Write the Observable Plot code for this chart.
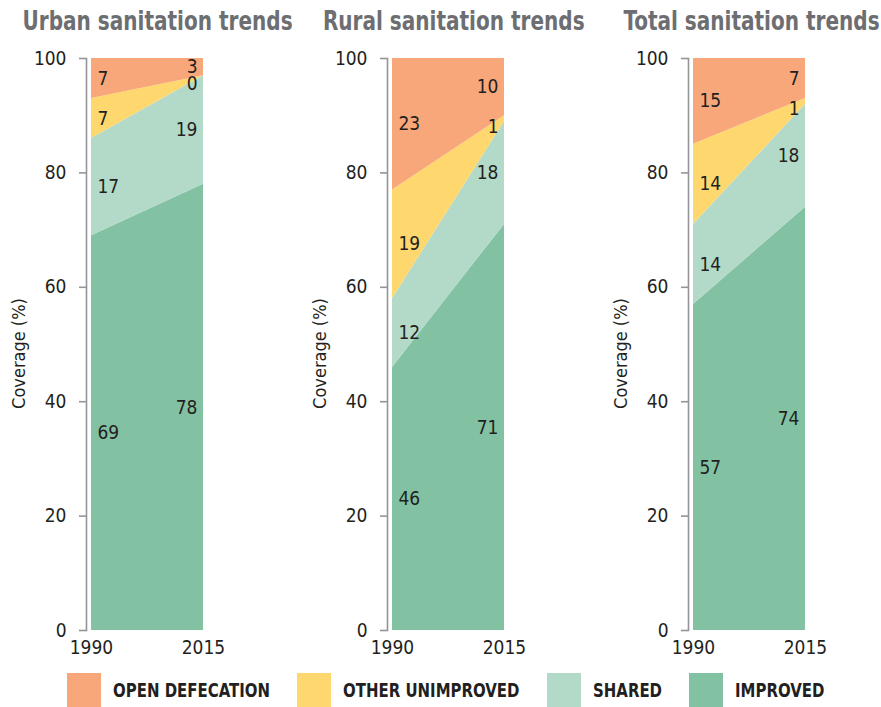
<!DOCTYPE html>
<html>
<head>
<meta charset="utf-8">
<script src="https://cdn.jsdelivr.net/npm/d3@7"></script>
<script src="https://cdn.jsdelivr.net/npm/@observablehq/plot@0.6"></script>
<style>
  html, body { margin: 0; padding: 0; background: #fff; overflow: hidden; }
  body { width: 881px; height: 707px; position: relative;
         font-family: "Liberation Sans Narrow", "DejaVu Sans Condensed", "DejaVu Sans", sans-serif; }
  .panel { position: absolute; top: 0; width: 301px; height: 670px; }
  .title { position: absolute; top: 8px; left: 0; width: 294px; text-align: center;
           font-size: 26px; line-height: 26px; font-weight: bold; color: #6d6e71; white-space: nowrap; }
  .title span { display: inline-block; transform-origin: 50% 50%; }
  .legend { position: absolute; top: 673px; left: 67px; display: flex; align-items: center; height: 34px; }
  .item { display: flex; align-items: center; margin-right: 27px; }
  .swatch { width: 34px; height: 34px; margin-right: 12px; flex: none; }
  .lab { font-size: 19px; font-weight: bold; color: #231f20; white-space: nowrap; overflow: visible; }
  .lab span { display: inline-block; transform-origin: 0 50%; }
</style>
</head>
<body>
<div id="root"></div>
<script>
const years = [1990, 2015];
const categories = ["Improved", "Shared", "Other unimproved", "Open defecation"];
const colors = ["#82c1a2", "#b3dac8", "#fed86e", "#f7a77a"];
const legendOrder = ["Open defecation", "Other unimproved", "Shared", "Improved"];
const legendLabels = ["OPEN DEFECATION", "OTHER UNIMPROVED", "SHARED", "IMPROVED"];
const titles = ["Urban sanitation trends", "Rural sanitation trends", "Total sanitation trends"];
const yTicks = [0, 20, 40, 60, 80, 100];
const yLabel = "Coverage (%)";

// values per category order: Improved, Shared, Other unimproved, Open defecation
const urban1990 = [69, 17, 7, 7];
const urban2015 = [78, 19, 0, 3];
const rural1990 = [46, 12, 19, 23];
const rural2015 = [71, 18, 1, 10];
const total1990 = [57, 14, 14, 15];
const total2015 = [74, 18, 1, 7];

const panels = [
  [urban1990, urban2015],
  [rural1990, rural2015],
  [total1990, total2015]
];

const root = document.getElementById("root");
const textColor = "#231f20";
const axisGray = "#939598";
const fontStack = '"Liberation Sans Narrow", "DejaVu Sans Condensed", "DejaVu Sans", sans-serif';

const titleSpans = [];
panels.forEach((vals, i) => {
  const rows = [];
  years.forEach((yr, j) => {
    categories.forEach((c, k) => rows.push({year: yr, category: c, value: vals[j][k]}));
  });

  const div = document.createElement("div");
  div.className = "panel";
  div.style.left = (i * 301) + "px";

  const stackOpts = {x: "year", y: "value", z: "category", order: categories};

  const chart = Plot.plot({
    width: 301,
    height: 665,
    marginLeft: 86,
    marginRight: 98,
    marginTop: 58,
    marginBottom: 35,
    style: {fontFamily: fontStack, fontSize: "19px", background: "transparent", color: textColor},
    x: {domain: [1990, 2015], insetLeft: 5},
    y: {domain: [0, 100]},
    color: {domain: categories, range: colors},
    marks: [
      Plot.areaY(rows, {...stackOpts, fill: "category"}),
      Plot.frame({anchor: "left", stroke: axisGray, strokeWidth: 1.6}),
      Plot.axisY({ticks: yTicks, tickSize: 7, tickPadding: 13, stroke: axisGray, strokeWidth: 1.6, fill: textColor, label: null}),
      Plot.axisX({ticks: years, tickFormat: d => String(d), tickSize: 0, tickPadding: 10, fill: textColor, label: null}),
      Plot.text([yLabel], {frameAnchor: "left", text: d => d, rotate: -90, textAnchor: "middle", lineAnchor: "middle", dx: -67, dy: 9, fill: textColor, fontSize: 18}),
      Plot.text(rows, Plot.stackY({...stackOpts, filter: d => d.year === 1990, text: "value", textAnchor: "start", dx: 6, fill: textColor})),
      Plot.text(rows, Plot.stackY({...stackOpts, filter: d => d.year === 2015, text: d => d.value > 1 ? String(d.value) : "", textAnchor: "end", dx: -6, fill: textColor})),
      Plot.text(rows, Plot.stackY({...stackOpts, filter: d => d.year === 2015, text: d => d.value <= 1 ? String(d.value) : "", textAnchor: "end", dx: -6, dy: 8, fill: textColor}))
    ]
  });
  chart.style.position = "absolute";
  chart.style.left = "0px";
  chart.style.top = "0px";
  div.appendChild(chart);

  const t = document.createElement("div");
  t.className = "title";
  const ts = document.createElement("span");
  ts.textContent = titles[i];
  t.appendChild(ts);
  div.appendChild(t);
  titleSpans.push(ts);
  root.appendChild(div);
});

// condense the bold title text horizontally to match the narrow typeface of the original
const tw = titleSpans[0].getBoundingClientRect().width;
const tf = Math.min(1, 270 / tw);
titleSpans.forEach(s => { s.style.transform = `scaleX(${tf})`; });

const legend = document.createElement("div");
legend.className = "legend";
root.appendChild(legend);
const labSpans = [];
legendOrder.forEach((c, i) => {
  const item = document.createElement("div");
  item.className = "item";
  const sw = document.createElement("div");
  sw.className = "swatch";
  sw.style.background = colors[categories.indexOf(c)];
  const lab = document.createElement("div");
  lab.className = "lab";
  const s = document.createElement("span");
  s.textContent = legendLabels[i];
  lab.appendChild(s);
  item.appendChild(sw);
  item.appendChild(lab);
  legend.appendChild(item);
  labSpans.push([lab, s]);
});
const lw = labSpans[0][1].getBoundingClientRect().width;
const lf = Math.min(1, 157 / lw);
labSpans.forEach(([lab, s]) => {
  const w = s.getBoundingClientRect().width;
  lab.style.width = (w * lf) + "px";
  s.style.transform = `scaleX(${lf})`;
});
</script>
</body>
</html>
